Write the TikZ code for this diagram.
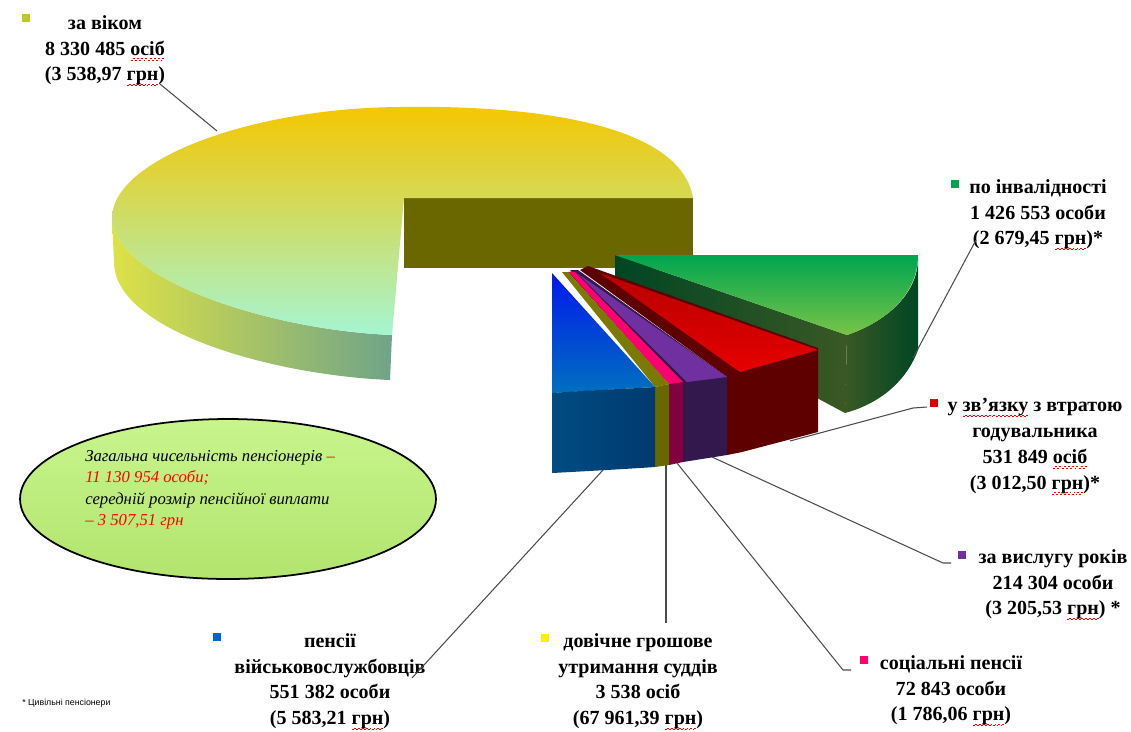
\documentclass[tikz,border=0pt]{standalone}
\usepackage{fontspec}
\setmainfont{Liberation Serif}
\newfontfamily\notefont{Liberation Sans}
\usetikzlibrary{shapes.geometric}

\definecolor{vikTop}{RGB}{245,198,0}
\definecolor{vikMid}{RGB}{245,245,0}
\definecolor{vikLow}{RGB}{165,245,210}
\definecolor{vikSideL}{RGB}{222,226,70}
\definecolor{vikSideR}{RGB}{112,164,136}
\definecolor{vikCut}{RGB}{106,102,0}
\definecolor{invTop}{RGB}{0,165,80}
\definecolor{invLow}{RGB}{120,196,70}
\definecolor{invDark}{RGB}{0,70,36}
\definecolor{invMid}{RGB}{58,88,36}
\definecolor{vtrTop}{RGB}{230,0,0}
\definecolor{vtrDark}{RGB}{94,0,0}
\definecolor{vysTop}{RGB}{112,48,160}
\definecolor{vysDark}{RGB}{50,24,76}
\definecolor{socTop}{RGB}{255,0,112}
\definecolor{socDark}{RGB}{128,0,64}
\definecolor{dovTop}{RGB}{122,122,0}
\definecolor{dovDark}{RGB}{104,104,0}
\definecolor{viyTopB}{RGB}{0,24,235}
\definecolor{viyTop}{RGB}{0,112,192}
\definecolor{viyDarkL}{RGB}{0,76,130}
\definecolor{viyDarkR}{RGB}{0,58,110}
\definecolor{ovTop}{RGB}{200,245,140}
\definecolor{ovMid}{RGB}{246,248,160}
\definecolor{ovLow}{RGB}{178,228,110}

\newcommand{\lblfont}{\fontsize{11.4}{14.7}\selectfont\bfseries}
% червона хвиляста лінія під словом
\newcommand{\sqw}[1]{\setbox0\hbox{#1}\rlap{\hbox to\wd0{\color{red}\xleaders\hbox{\rule[-3.1pt]{1.1pt}{0.55pt}\rule[-2.3pt]{1.1pt}{0.55pt}}\hfil}}#1}

\tikzset{
  lbl/.style={font=\lblfont, align=center, anchor=north, inner sep=0pt},
  mrk/.style={minimum size=5pt, inner sep=0pt, draw=none},
  lead/.style={draw=black!70, line width=0.6pt},
}

\begin{document}
\begin{tikzpicture}[x=0.02cm, y=-0.02cm]
\useasboundingbox (0,0) rectangle (1131,731);

% за віком
\shade[left color=vikSideL, right color=vikSideR] (112,218) .. controls (115,280) and (270,330) .. (392,335)
  -- (390,380) .. controls (270,375) and (114,330) .. (114,262) -- cycle;
\fill[vikCut] (404,198) rectangle (693,268);
\shade[top color=vikTop, middle color=vikMid, bottom color=vikLow] (404,198) -- (693,198)
  .. controls (680,120) and (520,105) .. (400,107) .. controls (250,108) and (112,160) .. (112,218)
  .. controls (115,280) and (270,330) .. (392,335) -- cycle;

% по інвалідності
\shade[left color=invDark, right color=invMid] (615,255) -- (847,335) -- (845,413) -- (615,290) -- cycle;
\shade[left color=invMid, right color=invDark] (847,335) .. controls (885,322) and (918,295) .. (918,258)
  -- (918,350) .. controls (905,385) and (875,405) .. (845,413) -- cycle;
\shade[top color=invTop, bottom color=invLow] (615,255) -- (918,255)
  .. controls (918,295) and (885,322) .. (847,335) -- cycle;

% у зв'язку з втратою годувальника
\fill[vtrDark] (588,266) -- (818,348) -- (818,432) -- (742,452) -- (727,455) -- (727,377) -- (580,270) -- cycle;
\shade[top color=vtrTop!80!black, bottom color=vtrTop] (600,273) -- (818,350) -- (740,372) -- cycle;

% за вислугу років
\fill[vysDark] (570,270) -- (578,270) -- (727,377) -- (727,455) -- (683,462) -- (683,382) -- cycle;
\fill[vysTop] (574,271) -- (727,377) -- (687,382) -- (580,276) -- cycle;

% соціальні пенсії
\fill[socDark] (568,272) -- (574,271) -- (683,382) -- (683,462) -- (669,465) -- (669,384) -- cycle;
\fill[socTop] (569,272) -- (575,272) -- (683,382) -- (669,384) -- cycle;

% довічне грошове утримання суддів
\fill[dovTop] (562,272) -- (568,272) -- (669,384) -- (655,387) -- cycle;
\fill[dovDark] (655,387) -- (669,384) -- (669,465) -- (655,467) -- cycle;

% пенсії військовослужбовців
\shade[top color=viyTopB, bottom color=viyTop] (552,273) -- (655,387) -- (552,393) -- cycle;
\shade[left color=viyDarkL, right color=viyDarkR] (552,393) .. controls (590,390) and (625,389) .. (655,387)
  -- (655,467) .. controls (625,469) and (590,471) .. (552,473) -- cycle;

% підписи
\node[mrk, fill={rgb,255:red,190;green,200;blue,40}] (vikMrk) at (26,18) {};
\node[lbl] (vik) at (105,15) {за віком\\8 330 485 \sqw{осіб}\\(3 538,97 \sqw{грн})};
\node[mrk, fill=invTop] (invMrk) at (955,184) {};
\node[lbl] (inv) at (1038,179) {по  інвалідності\\1 426 553 особи\\(2 679,45 \sqw{грн})*};
\node[mrk, fill={rgb,255:red,220;green,0;blue,0}] (vtrMrk) at (934,403) {};
\node[lbl] (vtr) at (1035,398) {у \sqw{зв’язку}  з втратою\\годувальника\\531 849 \sqw{осіб}\\(3 012,50 \sqw{грн})*};
\node[mrk, fill=vysTop] (vysMrk) at (962,555) {};
\node[lbl] (vys) at (1053,549) {за вислугу  років\\214 304 особи\\(3 205,53 \sqw{грн})  *};
\node[mrk, fill=socTop] (socMrk) at (864,660) {};
\node[lbl] (soc) at (951,655) {соціальні  пенсії\\72 843  особи\\(1 786,06 \sqw{грн})};
\node[mrk, fill=yellow] (dovMrk) at (545,638) {};
\node[lbl] (dov) at (638,633) {довічне  грошове\\утримання   суддів\\3 538 осіб\\(67 961,39 \sqw{грн})};
\node[mrk, fill={rgb,255:red,0;green,100;blue,210}] (viyMrk) at (217,637) {};
\node[lbl] (viy) at (330,633) {пенсії\\військовослужбовців\\551 382 особи\\(5 583,21 \sqw{грн})};

% лінії
\coordinate (vikA) at (160,84);   \coordinate (vikB) at (217,131);
\coordinate (invA) at (976,240);  \coordinate (invB) at (913,358);
\coordinate (vtrA) at (927,407);  \coordinate (vtrK) at (913,408); \coordinate (vtrB) at (790,441);
\coordinate (vysA) at (951,563);  \coordinate (vysK) at (943,563); \coordinate (vysB) at (712,457);
\coordinate (socA) at (851,670);  \coordinate (socK) at (843,670); \coordinate (socB) at (677,463);
\coordinate (dovA) at (666,623);  \coordinate (dovB) at (666,465);
\coordinate (viyA) at (412,678);  \coordinate (viyB) at (603,470);
\draw[lead] (vikA) -- (vikB);
\draw[lead] (invA) -- (invB);
\draw[lead] (vtrA) -- (vtrK) -- (vtrB);
\draw[lead] (vysA) -- (vysK) -- (vysB);
\draw[lead] (socA) -- (socK) -- (socB);
\draw[lead] (dovA) -- (dovB);
\draw[lead] (viyA) -- (viyB);

% овал
\node[ellipse, draw=black, line width=1pt, minimum width=8.32cm, minimum height=3.2cm,
  top color=ovTop, middle color=ovMid, bottom color=ovLow] (total) at (228,499) {};
\node[anchor=north west, align=left, inner sep=0pt, font=\fontsize{9.5}{12.2}\selectfont\itshape] (totalTxt) at (85,450)
  {Загальна чисельність пенсіонерів {\color{red}–}\\{\color{red}11 130 954 особи;}\\середній  розмір пенсійної виплати\\{\color{red}–  3 507,51 грн}};

\node[anchor=west, inner sep=0pt, font=\notefont\fontsize{5}{6}\selectfont] (note) at (22,703) {* Цивільні пенсіонери};
\end{tikzpicture}
\end{document}
